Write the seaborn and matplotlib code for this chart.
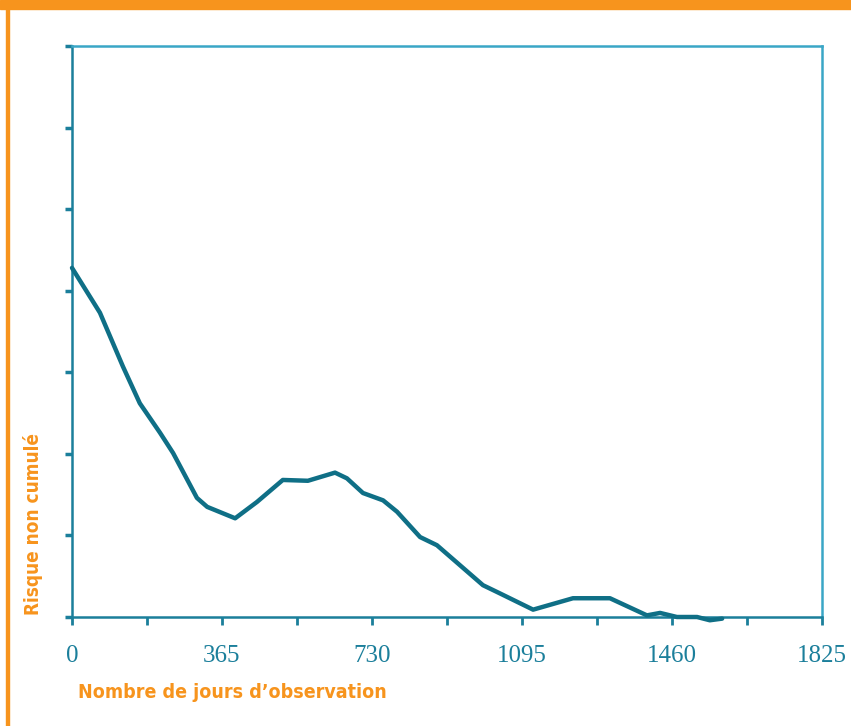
import numpy as np
import pandas as pd
import matplotlib.pyplot as plt
from matplotlib.patches import Rectangle
import seaborn as sns

# courbe (jours, risque non cumulé)
jours = [0, 68, 124, 165, 214, 246, 304, 329, 397, 450, 513, 574, 640, 669,
         708, 757, 791, 847, 888, 1000, 1041, 1122, 1219, 1309, 1399, 1431,
         1472, 1521, 1552, 1582]
risque = [4.28, 3.73, 3.07, 2.62, 2.26, 2.01, 1.46, 1.35, 1.21, 1.41, 1.68,
          1.67, 1.77, 1.70, 1.52, 1.43, 1.29, 0.98, 0.88, 0.39, 0.29, 0.09,
          0.23, 0.23, 0.02, 0.05, 0.0, 0.0, -0.04, -0.02]
xticks = [0, 365, 730, 1095, 1460, 1825]
yticks = [0, 1, 2, 3, 4, 5, 6, 7]

orange = '#f7941d'
teal = '#0f6f86'
axis_dark = '#1b7f9b'
axis_light = '#3aa6c6'

sns.set_style("white")

df = pd.DataFrame({'jours': jours, 'risque': risque})

fig = plt.figure(figsize=(8.51, 7.26), dpi=100)
ax = fig.add_axes([72 / 851, 1 - 617 / 726, 750 / 851, 571 / 726])

sns.lineplot(data=df, x='jours', y='risque', ax=ax, color=teal, linewidth=3.2,
             solid_joinstyle='round', solid_capstyle='round', clip_on=False, zorder=3)

ax.set_xlim(0, 1825)
ax.set_ylim(0, 7)
ax.set_xticks(xticks)
ax.set_xticks([182.5, 547.5, 912.5, 1277.5, 1642.5], minor=True)
ax.set_yticks(yticks)
ax.set_yticklabels([])
ax.set_xticklabels([str(t) for t in xticks], family='Liberation Serif',
                   fontsize=18, color=axis_dark)
ax.tick_params(axis='x', which='both', direction='out', length=6, width=2,
               color=axis_dark, pad=14, bottom=True)
ax.tick_params(axis='y', which='both', direction='out', length=5, width=2.5,
               color=axis_dark, left=True)
ax.set_xlabel('')
ax.set_ylabel('')
for side in ['left', 'bottom']:
    ax.spines[side].set_color(axis_dark)
    ax.spines[side].set_linewidth(1.8)
for side in ['top', 'right']:
    ax.spines[side].set_color(axis_light)
    ax.spines[side].set_linewidth(1.8)

# cadre orange
fig.patches.append(Rectangle((0, 1 - 9 / 726), 1, 9 / 726, transform=fig.transFigure,
                             color=orange, zorder=0))
fig.patches.append(Rectangle((6 / 851, 0), 2.5 / 851, 1, transform=fig.transFigure,
                             color=orange, zorder=0))

fig.text(78 / 851, 1 - 692 / 726, 'Nombre de jours d\u2019observation',
         family='DejaVu Sans', stretch='condensed', fontweight='bold',
         fontsize=14, color=orange, ha='left', va='center')
fig.text(33 / 851, 1 - 524 / 726, 'Risque non cumulé',
         family='DejaVu Sans', stretch='condensed', fontweight='bold',
         fontsize=13.6, color=orange, rotation=90, ha='center', va='center')

fig.savefig('out.png', dpi=100)
